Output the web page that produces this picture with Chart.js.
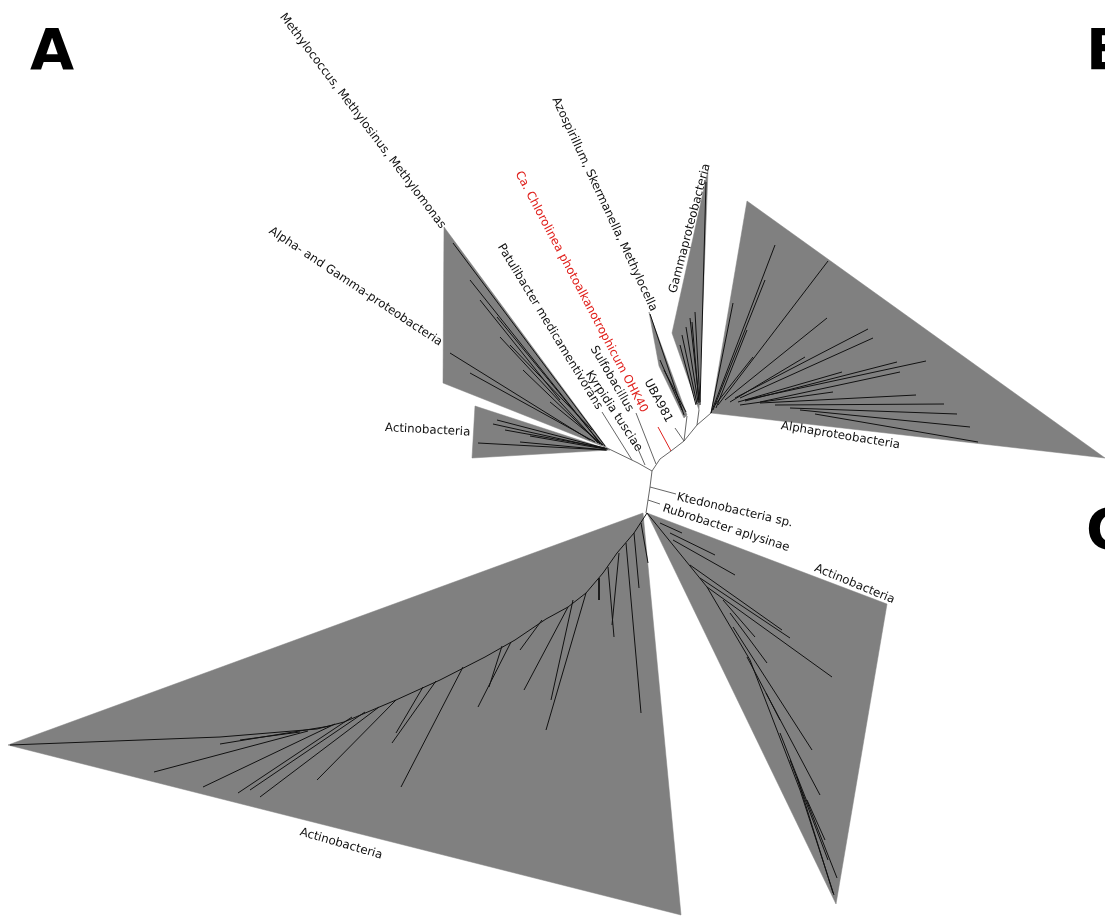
<!DOCTYPE html>
<html>
<head>
<meta charset="utf-8">
<script src="https://cdn.jsdelivr.net/npm/chart.js@4.4.1/dist/chart.umd.min.js"></script>
<style>
  html, body { margin: 0; padding: 0; background: #fff; }
  #wrap { width: 1105px; height: 916px; }
</style>
</head>
<body>
<div id="wrap"><canvas id="tree" width="1105" height="916"></canvas></div>
<script>
// collapsed clades (triangle hulls), in picture units
var hullActinoBig = [[643, 513], [8, 745], [681, 915]];
var hullActinoRight = [[647, 513], [887, 604], [836, 904]];
var hullAlpha = [[711, 413], [747, 201], [1105, 458]];
var hullGamma = [[708, 170], [672, 333], [699, 410]];
var hullUBA = [[649, 312], [659, 366], [684, 418], [687, 415]];
var hullMethylo = [[444, 227], [443, 383], [607, 448]];
var hullActinoLeft = [[475, 406], [472, 458], [610, 450]];

// branches inside the clades [x1, y1, x2, y2]
var branchesActinoBig = [
    [647, 513, 634, 533], [634, 533, 617, 553], [617, 553, 603, 573], [603, 573, 586, 593],
    [586, 593, 568, 607], [568, 607, 546, 619], [546, 619, 515, 640], [515, 640, 485, 657],
    [485, 657, 440, 680], [440, 680, 396, 700], [396, 700, 344, 722], [344, 722, 317, 729],
    [317, 729, 220, 737], [220, 737, 10, 745],
    [641, 523, 648, 563], [634, 533, 639, 588], [626, 543, 641, 713], [619, 553, 612, 625],
    [608, 567, 614, 637], [599, 578, 599, 600], [586, 593, 546, 730], [573, 600, 551, 700],
    [568, 607, 524, 690], [542, 620, 520, 650], [511, 642, 478, 707], [502, 646, 489, 687],
    [463, 667, 401, 787], [436, 681, 392, 743], [423, 687, 396, 733], [396, 700, 317, 780],
    [379, 707, 260, 797], [365, 712, 250, 790], [352, 717, 238, 793], [335, 724, 203, 787],
    [308, 731, 154, 772], [330, 726, 220, 744], [300, 732, 240, 740]
];
var branchesActinoRight = [
    [647, 513, 707, 587], [707, 587, 750, 660], [750, 660, 800, 790], [800, 790, 834, 895],
    [660, 523, 682, 533], [670, 533, 715, 555], [673, 540, 735, 575], [690, 565, 782, 630],
    [700, 578, 790, 638], [707, 587, 832, 677], [723, 600, 755, 637], [730, 613, 767, 663],
    [733, 627, 812, 750], [747, 657, 820, 795], [766, 693, 780, 720], [780, 733, 837, 878],
    [797, 777, 833, 893], [807, 800, 825, 840], [790, 760, 828, 860]
];
var branchesAlpha = [
    [711, 413, 775, 245], [718, 405, 828, 261], [711, 413, 733, 303], [725, 400, 827, 318],
    [735, 398, 868, 329], [740, 398, 873, 338], [730, 402, 805, 357], [745, 400, 926, 361],
    [745, 401, 897, 362], [738, 402, 842, 372], [740, 405, 833, 392], [760, 403, 916, 395],
    [775, 405, 944, 404], [790, 408, 957, 414], [800, 410, 970, 427], [815, 414, 978, 442],
    [715, 405, 753, 357], [713, 410, 765, 280], [716, 408, 747, 330], [760, 402, 900, 372]
];
var branchesGamma = [
    [700, 405, 706, 182], [699, 400, 690, 318], [698, 402, 686, 327], [697, 404, 682, 335],
    [700, 402, 695, 312], [696, 405, 680, 345], [699, 403, 692, 322]
];
var branchesUBA = [[650, 314, 684, 415], [660, 360, 682, 410], [664, 370, 686, 412]];
var branchesMethylo = [
    [453, 243, 605, 446], [470, 280, 600, 443], [497, 317, 602, 445], [450, 353, 590, 440],
    [470, 373, 595, 442], [500, 337, 598, 443], [523, 370, 600, 444], [550, 402, 603, 445],
    [510, 345, 592, 430], [480, 300, 560, 400]
];
var branchesActinoLeft = [
    [497, 420, 608, 449], [493, 424, 606, 449], [478, 443, 607, 450], [520, 442, 606, 450],
    [505, 430, 605, 448], [530, 436, 605, 449]
];

// backbone of the unrooted tree
var backbone = [
    [607, 448, 638, 463], [638, 463, 652, 471], [652, 471, 660, 459], [660, 459, 671, 451],
    [671, 451, 684, 441], [684, 441, 697, 425], [697, 425, 711, 413], [697, 425, 699, 410],
    [684, 441, 687, 416], [652, 471, 650, 487], [650, 487, 648, 500], [648, 500, 646, 513],
    [602, 412, 632, 460], [636, 413, 656, 464], [638, 449, 645, 465],
    [675, 428, 684, 441], [650, 487, 676, 494], [648, 500, 660, 504]
];
var branchRed = [[658, 427, 671, 451]];

// labels: text, x, y, angle (deg), colour
var labelTexts = [
    "Methylococcus, Methylosinus, Methylomonas", "Alpha- and Gamma-proteobacteria", "Actinobacteria",
    "Patulibacter medicamentivorans", "Sulfobacillus", "Kyrpidia tusciae",
    "Ca. Chlorolinea photoalkanotrophicum OHK40", "Azospirillum, Skermanella, Methylocella",
    "Gammaproteobacteria", "UBA981", "Alphaproteobacteria", "Ktedonobacteria sp.",
    "Rubrobacter aplysinae", "Actinobacteria", "Actinobacteria"
];
var labelX = [282, 270, 385, 500, 593, 588, 518, 555, 673, 647, 781, 677, 663, 815, 300];
var labelY = [15, 230, 428, 245, 347, 372, 172, 98, 293, 380, 426, 497, 508, 568, 832];
var labelAngle = [52.8, 33.6, 3, 58.7, 59.6, 56.7, 62.2, 65.1, -75.3, 61.9, 9.3, 13, 17.7, 22.3, 16.2];
var labelRed = [false, false, false, false, false, false, true, false, false, false, false, false, false, false, false];

var panelTexts = ["A", "B", "C"];
var panelX = [30, 1086, 1086];
var panelY = [70, 70, 550];

function hullData(h) {
    var pts = [];
    for (var i = 0; i < h.length; i++) pts.push({ x: h[i][0], y: h[i][1] });
    pts.push({ x: h[0][0], y: h[0][1] });
    return pts;
}

function segData(segs) {
    var pts = [];
    for (var i = 0; i < segs.length; i++) {
        pts.push({ x: segs[i][0], y: segs[i][1] });
        pts.push({ x: segs[i][2], y: segs[i][3] });
        pts.push({ x: segs[i][2], y: null });
    }
    return pts;
}

var datasets = [];
[hullActinoBig, hullActinoRight, hullAlpha, hullGamma, hullUBA, hullMethylo, hullActinoLeft].forEach(function (h) {
    datasets.push({
        data: hullData(h), showLine: true, fill: 'shape', backgroundColor: '#808080',
        borderColor: '#808080', borderWidth: 0.5, pointRadius: 0, order: 3
    });
});
[branchesActinoBig, branchesActinoRight, branchesAlpha, branchesGamma, branchesUBA, branchesMethylo, branchesActinoLeft].forEach(function (b) {
    datasets.push({
        data: segData(b), showLine: true, spanGaps: false, borderColor: '#111',
        borderWidth: 1, pointRadius: 0, order: 2
    });
});
datasets.push({ data: segData(backbone), showLine: true, spanGaps: false, borderColor: '#555', borderWidth: 0.9, pointRadius: 0, order: 1 });
datasets.push({ data: segData(branchRed), showLine: true, spanGaps: false, borderColor: '#e0201c', borderWidth: 1, pointRadius: 0, order: 1 });

var labelPlugin = {
    id: 'treeLabels',
    afterDatasetsDraw: function (chart) {
        var ctx = chart.ctx, sx = chart.scales.x, sy = chart.scales.y;
        ctx.save();
        ctx.font = '11.8px "DejaVu Sans"';
        ctx.textAlign = 'left';
        ctx.textBaseline = 'middle';
        for (var i = 0; i < labelTexts.length; i++) {
            ctx.save();
            ctx.translate(sx.getPixelForValue(labelX[i]), sy.getPixelForValue(labelY[i]));
            ctx.rotate(labelAngle[i] * Math.PI / 180);
            ctx.fillStyle = labelRed[i] ? '#e0201c' : '#111';
            ctx.fillText(labelTexts[i], 0, 0);
            ctx.restore();
        }
        ctx.font = 'bold 57px "DejaVu Sans"';
        ctx.textBaseline = 'alphabetic';
        ctx.fillStyle = '#000';
        for (var j = 0; j < panelTexts.length; j++)
            ctx.fillText(panelTexts[j], sx.getPixelForValue(panelX[j]), sy.getPixelForValue(panelY[j]));
        ctx.restore();
    }
};

new Chart(document.getElementById('tree'), {
    type: 'scatter',
    data: { datasets: datasets },
    options: {
        responsive: false,
        animation: false,
        devicePixelRatio: 1,
        layout: { padding: 0 },
        plugins: { legend: { display: false }, tooltip: { enabled: false } },
        elements: { line: { tension: 0 }, point: { radius: 0 } },
        scales: {
            x: { type: 'linear', min: 0, max: 1105, display: false },
            y: { type: 'linear', min: 0, max: 916, reverse: true, display: false }
        }
    },
    plugins: [labelPlugin]
});
</script>
</body>
</html>
